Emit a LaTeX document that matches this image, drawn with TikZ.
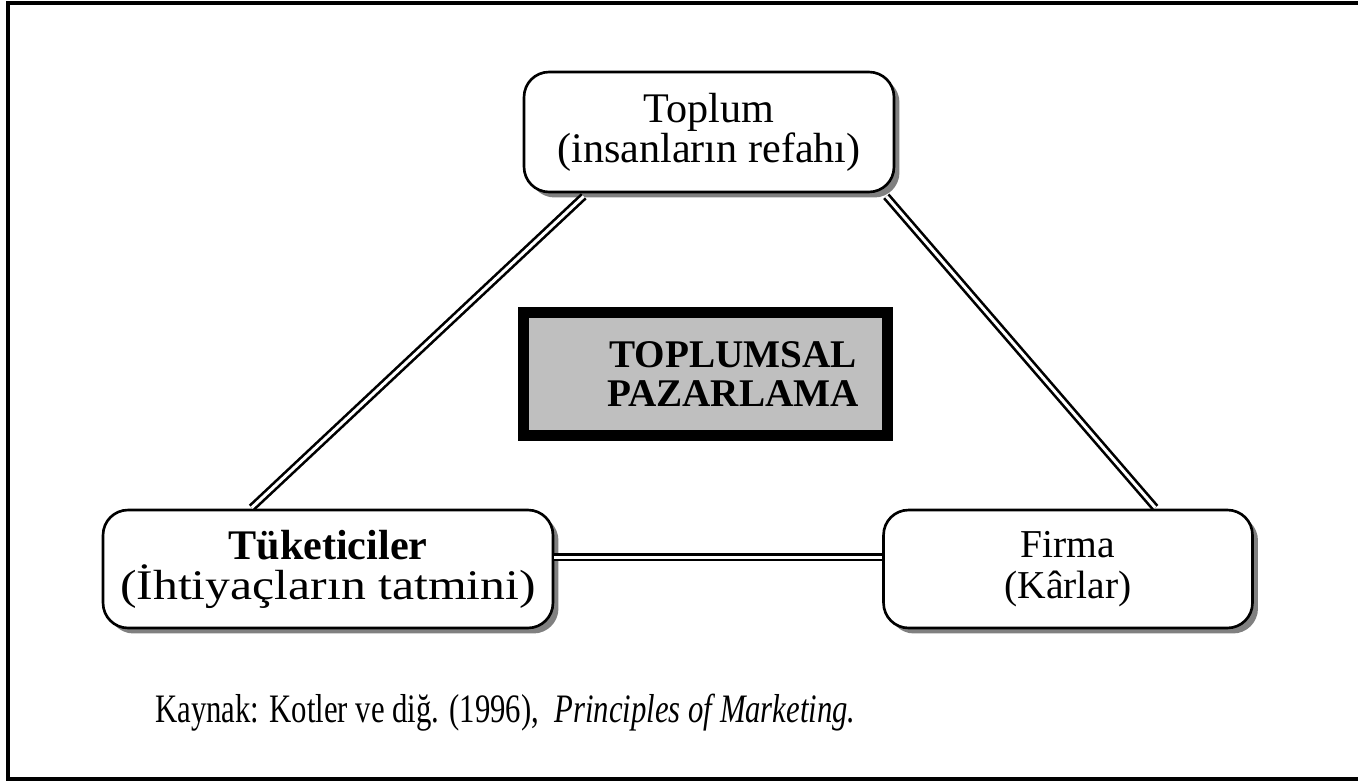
\documentclass[tikz,border=0pt]{standalone}
\usepackage{fontspec}
\setmainfont{Liberation Serif}
\newfontfamily\kaynakfont[FakeStretch=0.76]{Liberation Serif}
\newfontfamily\genisfont[FakeStretch=1.18]{Liberation Serif}
\usetikzlibrary{calc,shadows}

\tikzset{
  roundbox/.style={draw, line width=1.5pt, rounded corners=0.5cm, fill=white,
    align=center, inner sep=0pt,
    drop shadow={shadow xshift=0.11cm, shadow yshift=-0.11cm, fill=black!50, opacity=1},
    font=\fontsize{24pt}{22.7pt}\selectfont},
  dline/.style={double, line width=1.5pt, double distance=1.7pt}
}

\begin{document}
\begin{tikzpicture}[x=0.02cm, y=-0.02cm]
    \useasboundingbox (0,0) rectangle (1358,781);
    \draw[line width=1.8pt] (1370,3) -- (8,3) -- (8,779) -- (1370,779);

    % the three sides of the triangle
    \node[roundbox, minimum width=7.4cm, minimum height=2.4cm] (toplum) at (709,132)
        {Toplum\\(insanların refahı)};
    \node[roundbox, minimum width=9cm, minimum height=2.36cm] (tuketici) at (328,569)
        {\textbf{Tüketiciler}\\{\genisfont(İhtiyaçların tatmini)}};
    \node[roundbox, minimum width=7.38cm, minimum height=2.36cm,
        font=\fontsize{22.5pt}{23.2pt}\selectfont] (firma) at (1068,569)
        {Firma\\(Kârlar)};

    \draw[dline] ($(toplum.south west)+(61,3)$) -- ($(tuketici.north west)+(150,-1)$);
    \draw[dline] ($(toplum.south east)+(-9,3)$) -- ($(firma.north west)+(273,-1)$);
    \draw[dline] ($(tuketici.east)+(0,-12)$) coordinate (h) -- (firma.west |- h);

    % centre box
    \node[draw, line width=6.2pt, fill=black!25, minimum width=7.28cm, minimum height=2.46cm]
        (kutu) at (705.5,374) {};
    \node[font=\fontsize{22.3pt}{22.7pt}\selectfont\bfseries, align=center] (baslik)
        at (733,374) {TOPLUMSAL\\PAZARLAMA};

    \node[anchor=base west, font=\fontsize{23pt}{22.7pt}\kaynakfont, inner sep=0pt] (kaynak)
        at (155,722) {Kaynak: Kotler ve diğ. (1996), \ \textit{Principles of Marketing.}};
\end{tikzpicture}
\end{document}
